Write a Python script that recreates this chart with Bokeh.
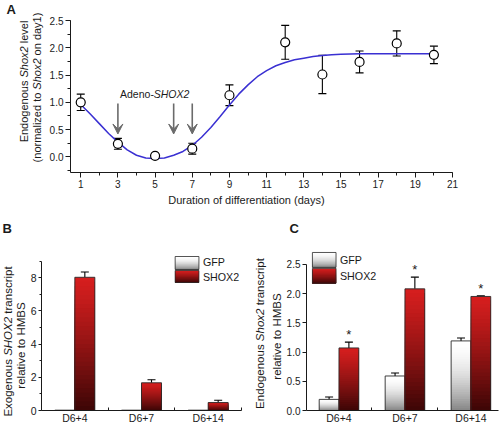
import math
from bokeh.plotting import figure
from bokeh.layouts import column, row
from bokeh.models import (Label, Whisker, TeeHead, Arrow, VeeHead, FixedTicker, Title,
                          PrintfTickFormatter, ColumnDataSource, Range1d)
from bokeh.core.properties import value
from bokeh.embed import file_html
from bokeh.resources import INLINE

# ---------------- data: panel A ----------------
days = [1, 3, 5, 7, 9, 12, 14, 16, 18, 20]
level_mean = [1.00, 0.24, 0.02, 0.15, 1.13, 2.10, 1.51, 1.74, 2.08, 1.87]
level_err = [0.15, 0.10, 0.03, 0.10, 0.19, 0.31, 0.35, 0.20, 0.23, 0.16]
fit_days = [1, 1.5, 2, 2.5, 3, 3.5, 4, 4.5, 5, 5.5, 6, 6.5, 7, 7.5, 8, 8.5, 9, 9.5,
            10, 10.5, 11, 11.5, 12, 12.5, 13, 13.5, 14, 14.5, 15, 16, 17, 18, 19, 20]
fit_level = [0.96, 0.79, 0.61, 0.43, 0.27, 0.13, 0.03, -0.02, -0.03, -0.02, 0.03, 0.10,
             0.21, 0.36, 0.54, 0.74, 0.95, 1.15, 1.32, 1.47, 1.58, 1.67, 1.73, 1.78,
             1.81, 1.84, 1.86, 1.87, 1.88, 1.89, 1.89, 1.89, 1.89, 1.89]
arrow_days = [3, 6, 7]
arrow_from, arrow_to = 0.98, 0.42
a_xticks = list(range(1, 22, 2))
a_yticks = [0.0, 0.5, 1.0, 1.5, 2.0, 2.5]

# ---------------- data: panels B and C ----------------
groups = ["D6+4", "D6+7", "D6+14"]
exo_gfp = [0.02, 0.02, 0.02]
exo_gfp_err = [0.0, 0.0, 0.0]
exo_shox2 = [8.03, 1.67, 0.48]
exo_shox2_err = [0.32, 0.18, 0.14]
endo_gfp = [0.19, 0.59, 1.19]
endo_gfp_err = [0.04, 0.05, 0.05]
endo_shox2 = [1.07, 2.08, 1.95]
endo_shox2_err = [0.10, 0.20, 0.01]
endo_signif = ["*", "*", "*"]
b_yticks = [0, 2, 4, 6, 8]
c_yticks = [0.0, 0.5, 1.0, 1.5, 2.0, 2.5]

# ---------------- style helpers ----------------
FONT = "Liberation Sans"
TXT = "#1a1a1a"
AX = "#1a1a1a"
GFP_TOP, GFP_BOT = (255, 255, 255), (132, 132, 132)
SHX_TOP, SHX_BOT = (214, 30, 30), (60, 6, 6)

AW = dict(zip(" ()+-.*0123456789", [278, 333, 333, 584, 333, 278, 389] + [556] * 10))
AW.update(dict(zip("abcdefghijklmnopqrstuvwxyz",
                   [556, 556, 500, 556, 556, 278, 556, 556, 222, 222, 500, 222, 833, 556,
                    556, 556, 556, 333, 500, 278, 556, 500, 722, 500, 500, 500])))
AW.update(dict(zip("ABCDEFGHIJKLMNOPQRSTUVWXYZ",
                   [667, 667, 722, 722, 667, 611, 778, 722, 278, 500, 667, 556, 833, 722,
                    778, 667, 778, 722, 667, 611, 722, 667, 944, 667, 667, 611])))


def text_w(s, size):
    return sum(AW.get(c, 556) for c in s) * size / 1000.0


class Frame:
    """page-pixel -> data conversion for a figure's plot frame"""
    def __init__(self, left, top, right, bottom, xr, yr):
        self.l, self.t, self.r, self.b = left, top, right, bottom
        self.x0, self.x1 = xr
        self.y0, self.y1 = yr

    def x(self, px):
        return self.x0 + (px - self.l) / (self.r - self.l) * (self.x1 - self.x0)

    def y(self, py):
        return self.y1 - (py - self.t) / (self.b - self.t) * (self.y1 - self.y0)


def make_fig(width, height, bl, br, bt, bb, xr, yr):
    p = figure(width=width, height=height, x_range=Range1d(*xr), y_range=Range1d(*yr),
               output_backend="svg", toolbar_location=None, title=None, frame_align=False,
               min_border_left=bl, min_border_right=br, min_border_top=bt, min_border_bottom=bb)
    p.outline_line_color = None
    p.grid.grid_line_color = None
    p.background_fill_color = "white"
    p.border_fill_color = "white"
    for ax in (p.xaxis[0], p.yaxis[0]):
        ax.axis_line_color = AX
        ax.axis_line_width = 1
        ax.major_tick_line_color = AX
        ax.minor_tick_line_color = AX
        ax.major_label_text_color = TXT
        ax.major_label_text_font = FONT
    return p


def make_strip(width, height):
    p = figure(width=width, height=height, x_range=Range1d(0, width), y_range=Range1d(0, height),
               output_backend="svg", toolbar_location=None, title=None, frame_align=False,
               x_axis_location=None, y_axis_location=None,
               min_border_left=0, min_border_right=0, min_border_top=0, min_border_bottom=0)
    p.outline_line_color = None
    p.grid.grid_line_color = None
    p.background_fill_color = "white"
    p.border_fill_color = "white"
    return p


def rich_label(p, fr, segs, size, px, py, vertical=False, align="center"):
    total = sum(text_w(t, size) for t, _ in segs)
    pos = -total / 2 if align == "center" else 0.0
    for t, style in segs:
        lead = len(t) - len(t.lstrip(" "))
        pos += text_w(t[:lead], size)          # leading blanks are dropped by SVG, so skip them
        body = t.strip(" ")
        if vertical:
            X, Y = px, py - pos
        else:
            X, Y = px + pos, py
        p.add_layout(Label(x=fr.x(X), y=fr.y(Y), text=body,
                           angle=math.pi / 2 if vertical else 0.0,
                           text_align="left", text_baseline="middle",
                           text_font=FONT, text_font_size=f"{size}px",
                           text_font_style=style, text_color=TXT))
        pos += text_w(t[lead:], size)


def shade(c_top, c_bot, s, gamma):
    t = s ** gamma
    return "#%02x%02x%02x" % tuple(int(round(a + (b - a) * t)) for a, b in zip(c_top, c_bot))


def gradient_source(lefts, rights, bottoms, tops, c_top, c_bot, gamma, n=30):
    # each slice reaches down to the bar's base; later (lower) slices paint over earlier ones
    d = dict(left=[], right=[], bottom=[], top=[], color=[])
    for l, r, b, t in zip(lefts, rights, bottoms, tops):
        for k in range(n):
            d["left"].append(l)
            d["right"].append(r)
            d["top"].append(t - (t - b) * k / n)
            d["bottom"].append(b)
            d["color"].append(shade(c_top, c_bot, (k + 0.5) / n, gamma))
    return ColumnDataSource(d)


def draw_bars(p, centers, heights, errs, width, c_top, c_bot, gamma):
    lefts = [c - width / 2 for c in centers]
    rights = [c + width / 2 for c in centers]
    zeros = [0.0] * len(heights)
    src = gradient_source(lefts, rights, zeros, heights, c_top, c_bot, gamma)
    p.quad(left="left", right="right", bottom="bottom", top="top", source=src,
           fill_color="color", line_color=None)
    p.quad(left=lefts, right=rights, bottom=zeros, top=heights, fill_alpha=0,
           line_color="#2a2a2a", line_width=0.9)
    keep = [i for i, e in enumerate(errs) if e > 0]
    if keep:
        wsrc = ColumnDataSource(dict(x=[centers[i] for i in keep],
                                     lo=[heights[i] for i in keep],
                                     hi=[heights[i] + errs[i] for i in keep]))
        p.add_layout(Whisker(base="x", lower="lo", upper="hi", source=wsrc,
                             line_color="black", line_width=1.1, lower_head=None,
                             upper_head=TeeHead(size=8, line_color="black", line_width=1.1)))


def legend_swatch(p, fr, px0, px1, py0, py1, c_top, c_bot, gamma, label, size, ty):
    src = gradient_source([fr.x(px0)], [fr.x(px1)], [fr.y(py1)], [fr.y(py0)], c_top, c_bot, gamma, n=14)
    p.quad(left="left", right="right", bottom="bottom", top="top", source=src,
           fill_color="color", line_color=None)
    p.quad(left=[fr.x(px0)], right=[fr.x(px1)], bottom=[fr.y(py1)], top=[fr.y(py0)],
           fill_alpha=0, line_color="#2a2a2a", line_width=0.8)
    rich_label(p, fr, [(label, "normal")], size, px1 + 4, ty, align="left")


def style_cat_axis(p, idx):
    xa = p.xaxis[0]
    xa.ticker = FixedTicker(ticks=idx, minor_ticks=[i - 0.5 for i in range(len(idx) + 1)])
    xa.major_label_overrides = {i: g for i, g in zip(idx, groups)}
    xa.major_tick_out, xa.major_tick_in = 0, 0
    xa.minor_tick_out, xa.minor_tick_in = 0, 3
    xa.major_label_standoff = 1
    xa.major_label_text_font_size = "10.5px"


# ======================= Panel A =======================
A_xr, A_yr = (0.45, 21.0), (-0.286, 2.5)
pa = make_fig(458, 214, 22, 52, 20, 42, A_xr, A_yr)
fa = Frame(68, 20, 452, 172, A_xr, A_yr)

xa = pa.xaxis[0]
xa.ticker = FixedTicker(ticks=a_xticks, minor_ticks=list(range(1, 22)))
xa.major_tick_out, xa.major_tick_in = 5, 0
xa.minor_tick_out, xa.minor_tick_in = 3, 0
xa.major_label_standoff = 2
xa.major_label_text_font_size = "10px"
ya = pa.yaxis[0]
ya.ticker = FixedTicker(ticks=a_yticks, minor_ticks=[-0.25 + 0.25 * i for i in range(12)])
ya.formatter = PrintfTickFormatter(format="%.1f")
ya.major_tick_out, ya.major_tick_in = 5, 0
ya.minor_tick_out, ya.minor_tick_in = 3, 0
ya.major_label_standoff = 2
ya.major_label_text_font_size = "10px"

src_a = ColumnDataSource(dict(day=days, mean=level_mean,
                              lo=[m - e for m, e in zip(level_mean, level_err)],
                              hi=[m + e for m, e in zip(level_mean, level_err)]))
pa.add_layout(Whisker(base="day", lower="lo", upper="hi", source=src_a,
                      line_color="black", line_width=1.1,
                      lower_head=TeeHead(size=8, line_color="black", line_width=1.1),
                      upper_head=TeeHead(size=8, line_color="black", line_width=1.1)))
pa.line(fit_days, fit_level, line_color="#3a30d2", line_width=1.5)
pa.scatter("day", "mean", source=src_a, marker="circle", size=9,
           fill_color="white", line_color="black", line_width=1.2)

for d in arrow_days:
    pa.add_layout(Arrow(x_start=d, y_start=arrow_from, x_end=d, y_end=arrow_to,
                        line_color="#6b6b6b", line_width=1.6,
                        end=VeeHead(size=10, fill_color="#6b6b6b", line_color="#6b6b6b")))

rich_label(pa, fa, [("Adeno-", "normal"), ("SHOX2", "italic")], 10.5, 152.5, 93)
xtitle = "Duration of differentiation (days)"
pa.add_layout(Title(text=xtitle, align="left", offset=244 - text_w(xtitle, 11) / 2 - 68,
                    standoff=2, text_font=FONT, text_font_size="11px",
                    text_font_style="normal", text_color=TXT), "below")

sa_w, sa_h = 46, 214
sa = make_strip(sa_w, sa_h)
fsa = Frame(0, 0, sa_w, sa_h, (0, sa_w), (0, sa_h))
rich_label(sa, fsa, [("Endogenous ", "normal"), ("Shox2", "italic"), (" level", "normal")],
           11, 23.5, 81, vertical=True)
rich_label(sa, fsa, [("(normalized to ", "normal"), ("Shox2", "italic"), (" on day1)", "normal")],
           11, 36, 87, vertical=True)
rich_label(sa, fsa, [("A", "bold")], 13, 6, 9, align="left")

# ======================= Panel B =======================
idx = list(range(len(groups)))
BW = 0.3
B_xr, B_yr = (-0.5, 2.5), (0.0, 9.645)
pb = make_fig(223, 212, 12, 9, 36, 16, B_xr, B_yr)
fb = Frame(39, 250, 241, 410, B_xr, B_yr)

style_cat_axis(pb, idx)
yb = pb.yaxis[0]
yb.ticker = FixedTicker(ticks=b_yticks, minor_ticks=[1, 3, 5, 7, 9])
yb.bounds = (0, 9)
yb.major_tick_out, yb.major_tick_in = 3, 0
yb.minor_tick_out, yb.minor_tick_in = 2, 0
yb.major_label_standoff = 2
yb.major_label_text_font_size = "10.5px"

draw_bars(pb, [i - BW / 2 for i in idx], exo_gfp, exo_gfp_err, BW, GFP_TOP, GFP_BOT, 1.8)
draw_bars(pb, [i + BW / 2 for i in idx], exo_shox2, exo_shox2_err, BW, SHX_TOP, SHX_BOT, 1.2)
legend_swatch(pb, fb, 174, 198, 256, 269, GFP_TOP, GFP_BOT, 1.8, "GFP", 10.7, 261.5)
legend_swatch(pb, fb, 174, 198, 270, 282, SHX_TOP, SHX_BOT, 1.2, "SHOX2", 10.7, 276)

sb_w, sb_h = 27, 212
sb = make_strip(sb_w, sb_h)
fsb = Frame(0, 214, sb_w, 426, (0, sb_w), (0, sb_h))
rich_label(sb, fsb, [("Exogenous ", "normal"), ("SHOX2", "italic"), (" transcript", "normal")],
           11.5, 7, 341, vertical=True)
rich_label(sb, fsb, [("relative to HMBS", "normal")], 11.5, 20, 345, vertical=True)
rich_label(sb, fsb, [("B", "bold")], 13, 2, 228, align="left")

# ======================= Panel C =======================
C_xr, C_yr = ((303 - 336) / 67.0, (498 - 336) / 67.0), (0.0, 2.753)
pc = make_fig(221, 186, 20, 6, 9, 15, C_xr, C_yr)
fc = Frame(303, 249, 498, 411, C_xr, C_yr)

style_cat_axis(pc, idx)
yc = pc.yaxis[0]
yc.ticker = FixedTicker(ticks=c_yticks)
yc.formatter = PrintfTickFormatter(format="%.1f")
yc.bounds = (0, 2.5)
yc.major_tick_out, yc.major_tick_in = 4, 0
yc.major_label_standoff = 2
yc.major_label_text_font_size = "10px"

draw_bars(pc, [i - BW / 2 for i in idx], endo_gfp, endo_gfp_err, BW, GFP_TOP, GFP_BOT, 1.8)
draw_bars(pc, [i + BW / 2 for i in idx], endo_shox2, endo_shox2_err, BW, SHX_TOP, SHX_BOT, 1.2)
pc.text(x=[i + BW / 2 for i in idx], y=[m + e for m, e in zip(endo_shox2, endo_shox2_err)],
        text=endo_signif, text_align="center", text_baseline="bottom",
        text_font=value(FONT), text_font_size="13px", text_color=TXT)
legend_swatch(pc, fc, 309, 333, 252, 267, GFP_TOP, GFP_BOT, 1.8, "GFP", 10.7, 260)
legend_swatch(pc, fc, 309, 333, 268, 283, SHX_TOP, SHX_BOT, 1.2, "SHOX2", 10.7, 275.5)

ct_w, ct_h = 221, 26
ct = make_strip(ct_w, ct_h)
fct = Frame(283, 214, 504, 240, (0, ct_w), (0, ct_h))
rich_label(ct, fct, [("C", "bold")], 13, 289, 228, align="left")

sc_w, sc_h = 33, 212
sc = make_strip(sc_w, sc_h)
fsc = Frame(250, 214, 250 + sc_w, 426, (0, sc_w), (0, sc_h))
rich_label(sc, fsc, [("Endogenous ", "normal"), ("Shox2", "italic"), (" transcript", "normal")],
           11.5, 259.5, 333, vertical=True)
rich_label(sc, fsc, [("relative to HMBS", "normal")], 11.5, 276.5, 336, vertical=True)

layout = column(row(sa, pa), row(sb, pb, sc, column(ct, pc)))
open("out.html", "w").write(file_html(layout, INLINE))
